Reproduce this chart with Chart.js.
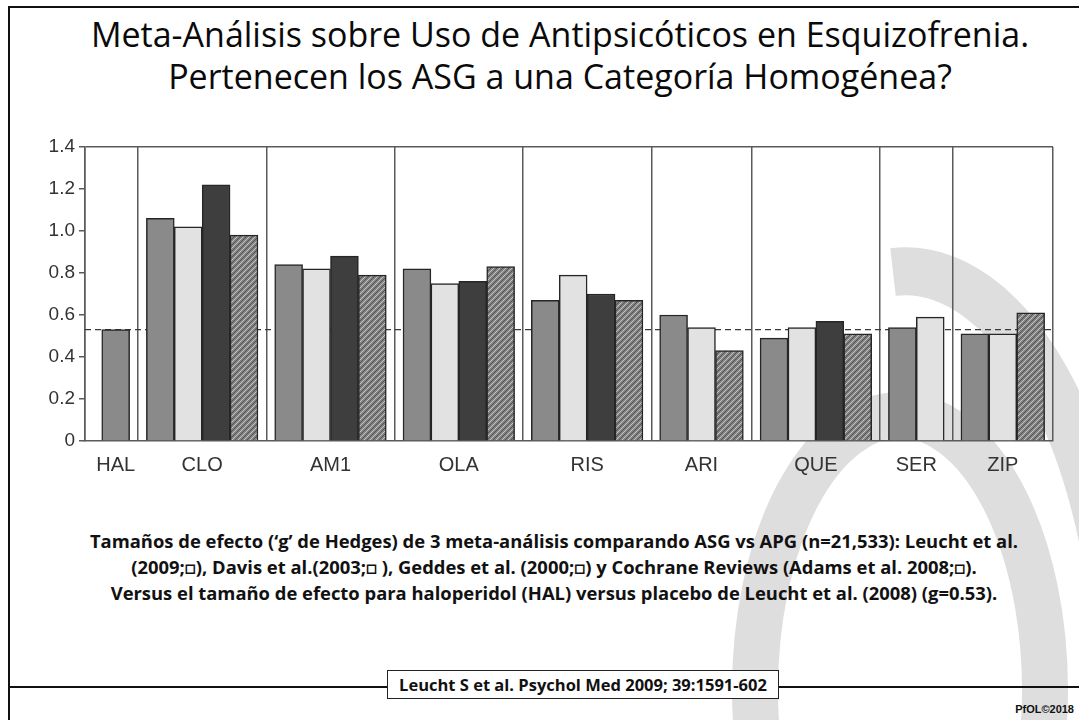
<!DOCTYPE html>
<html lang="es">

<head>
    <meta charset="UTF-8">
    <title>Meta-Análisis Antipsicóticos</title>
    <script src="https://cdn.jsdelivr.net/npm/chart.js"></script>
    <style>
        body {
            margin: 0;
            width: 1079px;
            height: 720px;
            overflow: hidden;
            background: #fff;
            position: relative;
            font-family: "Open Sans", Lato, sans-serif;
        }

        .abs {
            position: absolute;
        }

        #frame {
            left: 8px;
            top: 6px;
            right: 0;
            bottom: 0;
            border-left: 2px solid #111;
            border-top: 2px solid #111;
        }

        #title {
            left: 41px;
            right: 0;
            top: 13px;
            text-align: center;
            font-size: 34px;
            line-height: 42px;
            color: #0a0a0a;
            white-space: nowrap;
        }

        #chartBox {
            left: 0;
            top: 0;
            width: 1079px;
            height: 500px;
        }

        #caption {
            left: 29px;
            width: 1050px;
            top: 528px;
            text-align: center;
            font-weight: bold;
            font-size: 18.4px;
            line-height: 26px;
            color: #111;
            white-space: nowrap;
        }

        #footLine {
            left: 8px;
            right: 0;
            top: 686px;
            border-top: 2px solid #111;
        }

        #source {
            left: 387px;
            top: 670px;
            width: 390px;
            height: 27px;
            border: 1.5px solid #222;
            background: #fff;
            text-align: center;
            font-weight: bold;
            font-size: 16.5px;
            line-height: 27px;
            color: #111;
            white-space: nowrap;
        }

        #brand {
            right: 5px;
            top: 703px;
            font-family: "Liberation Sans Narrow", "Liberation Sans", sans-serif;
            font-weight: bold;
            font-size: 11px;
            color: #111;
        }
    </style>
</head>

<body>
    <!-- marca de agua -->
    <svg class="abs" style="left:0;top:0" width="1079" height="720">
        <path d="M 893 272 A 215 440 0 0 1 1120 720" fill="none" stroke="#dedede" stroke-width="48" />
        <ellipse cx="900" cy="690" rx="145" ry="275" fill="none" stroke="#dedede" stroke-width="46" />
    </svg>

    <div id="frame" class="abs"></div>

    <div id="title" class="abs">
        Meta-Análisis sobre Uso de Antipsicóticos en Esquizofrenia.<br>
        Pertenecen los ASG a una Categoría Homogénea?
    </div>

    <div id="chartBox" class="abs">
        <canvas id="myChart"></canvas>
    </div>

    <div id="caption" class="abs">
        Tamaños de efecto (‘g’ de Hedges) de 3 meta-análisis comparando ASG vs APG (n=21,533): Leucht et al.<br>
        (2009;□), Davis et al.(2003;□ ), Geddes et al. (2000;□) y Cochrane Reviews (Adams et al. 2008;□).<br>
        Versus el tamaño de efecto para haloperidol (HAL) versus placebo de Leucht et al. (2008) (g=0.53).
    </div>

    <div id="footLine" class="abs"></div>
    <div id="source" class="abs">Leucht S et al. Psychol Med 2009; 39:1591-602</div>
    <div id="brand" class="abs">PfOL©2018</div>

    <script>
        const categories = ['HAL', 'CLO', 'AM1', 'OLA', 'RIS', 'ARI', 'QUE', 'SER', 'ZIP'];

        // g de Hedges por meta-análisis (null = sin barra)
        const leucht2009 = [0.53, 1.06, 0.84, 0.82, 0.67, 0.60, 0.49, 0.54, 0.51];
        const davis2003 = [null, 1.02, 0.82, 0.75, 0.79, 0.54, 0.54, 0.59, 0.51];
        const geddes2000 = [null, 1.22, 0.88, 0.76, 0.70, null, 0.57, null, null];
        const cochrane2008 = [null, 0.98, 0.79, 0.83, 0.67, 0.43, 0.51, null, 0.61];

        const halPlacebo = 0.53;
        const yTickLabels = ['0', '0.2', '0.4', '0.6', '0.8', '1.0', '1.2', '1.4'];

        function hatch() {
            const c = document.createElement('canvas');
            c.width = 6;
            c.height = 6;
            const g = c.getContext('2d');
            g.fillStyle = '#828282';
            g.fillRect(0, 0, 6, 6);
            g.lineWidth = 1;
            g.strokeStyle = '#c4c4c4';
            for (let i = -6; i <= 6; i += 6) {
                g.beginPath();
                g.moveTo(i, 6);
                g.lineTo(i + 6, 0);
                g.stroke();
            }
            g.strokeStyle = '#555';
            for (let i = -3; i <= 9; i += 6) {
                g.beginPath();
                g.moveTo(i, 6);
                g.lineTo(i + 6, 0);
                g.stroke();
            }
            return g.createPattern(c, 'repeat');
        }

        const series = [leucht2009, davis2003, geddes2000, cochrane2008];
        const fills = ['#8a8a8a', '#e2e2e2', '#3e3e3e', hatch()];

        // posiciones: una unidad por barra, hueco entre grupos
        const gap = 0.3;
        const xMin = -gap;
        const bars = [];
        const seps = [];
        const centers = [];
        let pos = 0;
        categories.forEach((cat, i) => {
            pos += gap;
            const start = pos;
            series.forEach((s, k) => {
                if (s[i] == null) return;
                bars.push({ x: pos + 0.5, y: s[i], k: k });
                pos += 1;
            });
            centers.push({ value: (start + pos) / 2, label: cat });
            pos += gap;
            seps.push(pos);
        });
        const xMax = pos;

        const isCenter = v => centers.find(c => Math.abs(c.value - v) < 1e-6);

        const ctx = document.getElementById('myChart').getContext('2d');

        new Chart(ctx, {
            type: 'bar',
            data: {
                datasets: [{
                    type: 'bar',
                    data: bars.map(b => ({ x: b.x, y: b.y })),
                    backgroundColor: bars.map(b => fills[b.k]),
                    borderColor: '#262626',
                    borderWidth: 1.5,
                    barPercentage: 1,
                    categoryPercentage: 1,
                    order: 1
                }, {
                    type: 'line',
                    data: [{ x: xMin, y: halPlacebo }, { x: xMax, y: halPlacebo }],
                    borderColor: '#3a3a3a',
                    borderWidth: 1.2,
                    borderDash: [6, 4],
                    pointRadius: 0,
                    order: 2
                }]
            },
            options: {
                responsive: true,
                maintainAspectRatio: false,
                animation: false,
                layout: {
                    padding: { left: 20, right: 26, top: 147, bottom: 19 }
                },
                plugins: {
                    legend: { display: false },
                    tooltip: { enabled: false }
                },
                scales: {
                    x: {
                        type: 'linear',
                        display: false,
                        min: xMin,
                        max: xMax,
                        offset: false,
                        ticks: { stepSize: 100 }
                    },
                    xg: {
                        type: 'linear',
                        position: 'bottom',
                        min: xMin,
                        max: xMax,
                        offset: false,
                        afterBuildTicks: scale => {
                            scale.ticks = [xMin, ...seps, ...centers.map(c => c.value)]
                                .sort((a, b) => a - b)
                                .map(v => ({ value: v }));
                        },
                        afterFit: scale => { scale.height = 40; },
                        grid: {
                            offset: false,
                            color: c => (c.tick && isCenter(c.tick.value)) ? 'rgba(0,0,0,0)' : '#5a5a5a',
                            lineWidth: 1.5,
                            drawTicks: false
                        },
                        border: { display: true, color: '#5a5a5a', width: 1.5 },
                        ticks: {
                            autoSkip: false,
                            maxRotation: 0,
                            padding: 12,
                            color: '#333',
                            font: { family: '"Liberation Sans", Arial, sans-serif', size: 20 },
                            callback: value => {
                                const c = isCenter(value);
                                return c ? c.label : '';
                            }
                        }
                    },
                    y: {
                        min: 0,
                        max: 1.4,
                        afterFit: scale => { scale.width = 65; },
                        grid: {
                            color: c => (c.tick && Math.abs(c.tick.value - 1.4) < 1e-6) ? '#5a5a5a' : 'rgba(0,0,0,0)',
                            lineWidth: 1.5,
                            tickColor: '#5a5a5a',
                            tickLength: 6
                        },
                        border: { display: true, color: '#5a5a5a', width: 1.5 },
                        ticks: {
                            stepSize: 0.2,
                            padding: 4,
                            color: '#333',
                            font: { family: '"Liberation Sans", Arial, sans-serif', size: 19 },
                            callback: (value, index) => yTickLabels[index]
                        }
                    }
                }
            }
        });
    </script>
</body>

</html>
